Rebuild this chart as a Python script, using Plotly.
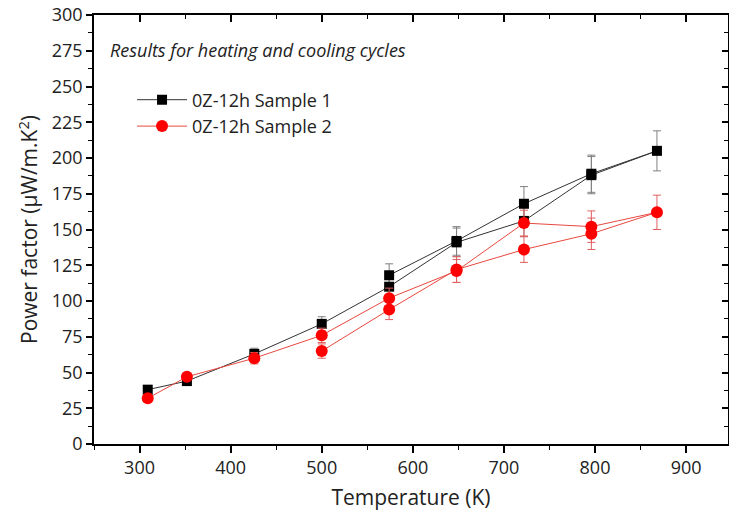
import plotly.graph_objects as go

# Sample 1: heating (309 -> 868) then cooling (868 -> 574)
t1 = [309, 352, 426, 500, 574, 648, 722, 796, 868, 796, 722, 648, 574]
pf1 = [38, 44, 63, 84, 110, 141, 156, 188, 205, 189, 168, 142, 118]
err1 = [2, 2, 4, 5, 7, 10, 11, 13, 14, 13, 12, 10, 8]

# Sample 2: heating (309 -> 868) then cooling (868 -> 500)
t2 = [309, 352, 426, 500, 574, 648, 722, 796, 868, 796, 722, 648, 574, 500]
pf2 = [32, 47, 60, 76, 102, 121, 154.5, 152, 162, 147, 136, 122, 94, 65]
err2 = [2, 2, 4, 5, 7, 8, 9, 11, 12, 11, 9, 9, 7, 5]

x_ticks = [300, 400, 500, 600, 700, 800, 900]
y_ticks = [0, 25, 50, 75, 100, 125, 150, 175, 200, 225, 250, 275, 300]

FONT = "Open Sans"
XR = [250, 946]
YR = [0, 300]
TXT = "#222222"

fig = go.Figure()
fig.add_trace(go.Scatter(
    x=t1, y=pf1, mode="lines+markers", name="0Z-12h Sample 1",
    line=dict(color="#333333", width=1),
    marker=dict(symbol="square", size=10, color="black"),
    error_y=dict(type="data", array=err1, visible=True, color="#808080", thickness=1, width=4),
))
fig.add_trace(go.Scatter(
    x=t2, y=pf2, mode="lines+markers", name="0Z-12h Sample 2",
    line=dict(color="#e8483f", width=1),
    marker=dict(symbol="circle", size=12, color="#ff0000"),
    error_y=dict(type="data", array=err2, visible=True, color="#e06060", thickness=1, width=4),
))
# empty trace so the mirrored top/right axes (inward ticks) are drawn
fig.add_trace(go.Scatter(x=[], y=[], xaxis="x2", yaxis="y2", showlegend=False, hoverinfo="skip"))

axis_common = dict(showgrid=False, zeroline=False, showline=True, linecolor="black", linewidth=1.5)

fig.update_layout(
    width=729, height=520,
    margin=dict(l=94, r=1, t=15, b=76),
    paper_bgcolor="white", plot_bgcolor="white",
    font=dict(family=FONT, color=TXT),
    showlegend=True,
    legend=dict(x=0.06, y=0.845, xanchor="left", yanchor="top", bgcolor="rgba(0,0,0,0)",
                font=dict(family=FONT, size=18, color=TXT), itemwidth=50),
    xaxis=dict(range=XR, tickvals=x_ticks, ticks="outside", ticklen=7, tickwidth=1.5,
               tickcolor="black", tickfont=dict(size=18, color=TXT),
               minor=dict(dtick=50, tick0=0, ticks="outside", ticklen=4, tickwidth=1, tickcolor="black"),
               title=dict(text="Temperature (K)", font=dict(size=21, color=TXT), standoff=12),
               **axis_common),
    yaxis=dict(range=YR, tickvals=y_ticks, ticks="outside", ticklen=6, tickwidth=1.5,
               tickcolor="black", tickfont=dict(size=18, color=TXT),
               minor=dict(dtick=12.5, tick0=0, ticks="outside", ticklen=4, tickwidth=1, tickcolor="black"),
               title=dict(text="Power factor (\u03bcW/m.K<sup>2</sup>)", font=dict(size=21, color=TXT), standoff=8),
               **axis_common),
    xaxis2=dict(range=XR, overlaying="x", side="top", tickvals=x_ticks, ticks="inside", ticklen=7,
                tickwidth=1.5, tickcolor="black", showticklabels=False,
                minor=dict(dtick=50, tick0=0, ticks="inside", ticklen=4, tickwidth=1, tickcolor="black"),
                anchor="y2", **axis_common),
    yaxis2=dict(range=YR, overlaying="y", side="right", tickvals=y_ticks, ticks="inside", ticklen=6,
                tickwidth=1.5, tickcolor="black", showticklabels=False,
                minor=dict(dtick=12.5, tick0=0, ticks="inside", ticklen=4, tickwidth=1, tickcolor="black"),
                anchor="x2", **axis_common),
    annotations=[dict(text="<i>Results for heating and cooling cycles</i>", xref="paper", yref="paper",
                      x=0.022, y=0.918, xanchor="left", yanchor="middle", showarrow=False,
                      font=dict(family=FONT, size=18, color=TXT))],
)

fig.write_html("out.html")
